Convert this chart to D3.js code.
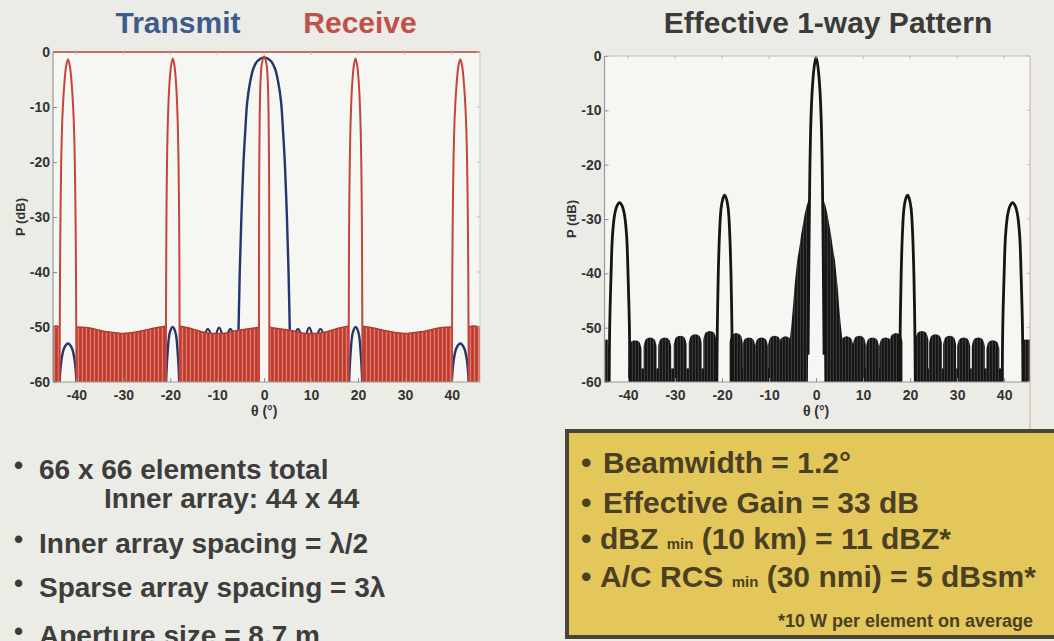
<!DOCTYPE html>
<html><head><meta charset="utf-8">
<script src="https://cdn.jsdelivr.net/npm/d3@7/dist/d3.min.js"></script>
<style>
html,body{margin:0;padding:0;background:#ecece6;}
svg{display:block;font-family:"Liberation Sans",Arial,Helvetica,sans-serif;font-weight:bold;}
</style></head><body>
<svg id="c" width="1054" height="641"></svg>
<script>
// ---------------- DATA ----------------
const angleTicks = [-40,-30,-20,-10,0,10,20,30,40];
const dbTicks = [0,-10,-20,-30,-40,-50,-60];

// Transmit (blue) main lobe: [angle deg, dB]
const txMainLobe = [[-5.6,-60],[-5.45,-50],[-5.2,-40],[-4.85,-30],[-4.4,-20],[-4.0,-14],[-3.6,-9],[-3.0,-5.5],[-2.3,-3],[-1.4,-1.6],[0,-1.0],[1.4,-1.6],[2.3,-3],[3.0,-5.5],[3.6,-9],[4.0,-14],[4.4,-20],[4.85,-30],[5.2,-40],[5.45,-50],[5.6,-60]];
// Transmit sidelobe peaks near -50 dB: [angle, dB]
const txSidePeaks = [[-12.0,-50.4],[-9.6,-50.1],[-7.2,-50.4],[7.2,-50.4],[9.6,-50.1],[12.0,-50.4]];
// Transmit lobes under the receive grating lobes
const txGratingLobes = [
  [[-43.6,-60],[-43.2,-56],[-42.6,-53.8],[-41.8,-53],[-41.0,-53.8],[-40.4,-56],[-40.0,-60]],
  [[-20.9,-60],[-20.6,-55],[-20.1,-51],[-19.5,-50],[-18.9,-51],[-18.4,-55],[-18.1,-60]],
  [[18.1,-60],[18.4,-55],[18.9,-51],[19.5,-50],[20.1,-51],[20.6,-55],[20.9,-60]],
  [[40.0,-60],[40.4,-56],[41.0,-53.8],[41.8,-53],[42.6,-53.8],[43.2,-56],[43.6,-60]]
];
// Receive (red) grating lobes
const rxLobes = [
  [[-43.6,-60],[-43.55,-50],[-43.5,-40],[-43.4,-30],[-43.25,-20],[-43.0,-12],[-42.6,-6],[-42.2,-2.6],[-41.8,-1.3],[-41.4,-2.6],[-41.0,-6],[-40.6,-12],[-40.35,-20],[-40.2,-30],[-40.1,-40],[-40.05,-50],[-40.0,-60]],
  [[-20.95,-60],[-20.92,-50],[-20.88,-40],[-20.82,-30],[-20.7,-20],[-20.5,-12],[-20.2,-6],[-19.85,-2.6],[-19.47,-1.2],[-19.1,-2.6],[-18.75,-6],[-18.45,-12],[-18.25,-20],[-18.12,-30],[-18.06,-40],[-18.03,-50],[-18.0,-60]],
  [[-1.1,-60],[-1.1,-50],[-1.1,-40],[-1.08,-30],[-1.04,-20],[-0.95,-12],[-0.8,-6],[-0.5,-2.2],[0,-0.8],[0.5,-2.2],[0.8,-6],[0.95,-12],[1.04,-20],[1.08,-30],[1.1,-40],[1.1,-50],[1.1,-60]],
  [[18.0,-60],[18.03,-50],[18.06,-40],[18.12,-30],[18.25,-20],[18.45,-12],[18.75,-6],[19.1,-2.6],[19.47,-1.2],[19.85,-2.6],[20.2,-6],[20.5,-12],[20.7,-20],[20.82,-30],[20.88,-40],[20.92,-50],[20.95,-60]],
  [[40.0,-60],[40.05,-50],[40.1,-40],[40.2,-30],[40.35,-20],[40.6,-12],[41.0,-6],[41.4,-2.6],[41.8,-1.3],[42.2,-2.6],[42.6,-6],[43.0,-12],[43.25,-20],[43.4,-30],[43.5,-40],[43.55,-50],[43.6,-60]]
];
// Receive sidelobe floor envelope (top of dense sidelobes) per region
const rxFloor = [
  [[-45,-50],[-44.4,-49.8],[-43.6,-50]],
  [[-40.0,-50],[-38,-50.1],[-36,-50.4],[-34,-50.8],[-32,-51],[-30,-51.2],[-28,-51],[-26,-50.7],[-24,-50.3],[-22,-50],[-20.95,-49.8]],
  [[-18.0,-49.8],[-16,-50.2],[-14,-50.7],[-12,-51.1],[-10,-51.2],[-8,-51.1],[-6,-50.7],[-4,-50.4],[-2,-50.2],[-1.1,-50]],
  [[1.1,-50],[2,-50.2],[4,-50.4],[6,-50.7],[8,-51.1],[10,-51.2],[12,-51.1],[14,-50.7],[16,-50.2],[18.0,-49.8]],
  [[20.95,-49.8],[22,-50],[24,-50.3],[26,-50.7],[28,-51],[30,-51.2],[32,-51],[34,-50.8],[36,-50.4],[38,-50.1],[40.0,-50]],
  [[43.6,-50],[44.6,-49.8],[46,-50]]
];

// Effective 1-way pattern (black)
const effLobes = [
  [[-44.0,-60],[-43.9,-50],[-43.6,-40],[-43.3,-33],[-42.8,-29],[-42.3,-27.5],[-41.8,-27],[-41.3,-27.5],[-40.8,-29],[-40.3,-33],[-40.0,-40],[-39.7,-50],[-39.6,-60]],
  [[-21.1,-60],[-21.0,-50],[-20.8,-40],[-20.5,-32],[-20.2,-28],[-19.8,-26.2],[-19.47,-25.6],[-19.1,-26.2],[-18.7,-28],[-18.4,-32],[-18.1,-40],[-17.9,-50],[-17.8,-60]],
  [[-1.7,-55],[-1.6,-45],[-1.5,-35],[-1.4,-27],[-1.3,-20],[-1.1,-12],[-0.8,-6],[-0.4,-2],[0,-0.2],[0.4,-2],[0.8,-6],[1.1,-12],[1.3,-20],[1.4,-27],[1.5,-35],[1.6,-45],[1.7,-55]],
  [[17.8,-60],[17.9,-50],[18.1,-40],[18.4,-32],[18.7,-28],[19.1,-26.2],[19.47,-25.6],[19.8,-26.2],[20.2,-28],[20.5,-32],[20.8,-40],[21.0,-50],[21.1,-60]],
  [[39.6,-60],[39.7,-50],[40.0,-40],[40.3,-33],[40.8,-29],[41.3,-27.5],[41.8,-27],[42.3,-27.5],[42.8,-29],[43.3,-33],[43.6,-40],[43.9,-50],[44.0,-60]]
];
// dense sidelobe skirt around the main beam (outline of filled region)
const effSkirts = [
  [[-5.8,-60],[-5.8,-54],[-5.5,-51.5],[-5.2,-49],[-4.9,-46],[-4.6,-42.5],[-4.3,-40],[-4.0,-37.5],[-3.6,-35.5],[-3.2,-33],[-2.8,-31],[-2.4,-29],[-2.0,-27.5],[-1.6,-26.5],[-1.4,-27],[-1.5,-35],[-1.6,-45],[-1.75,-60]],
  [[1.75,-60],[1.6,-45],[1.5,-35],[1.4,-27],[1.6,-26.5],[2.0,-27.5],[2.4,-29],[2.8,-31],[3.2,-33],[3.6,-35.5],[4.0,-37.5],[4.3,-40],[4.6,-42.5],[4.9,-46],[5.2,-49],[5.5,-51.5],[5.8,-54],[5.8,-60]]
];
// floor bands: [start angle, end angle, top dB]
const effFloorBands = [[-45,-44.3,-52.2],[-39.9,-21.0,-57.5],[-17.9,-5.6,-57.5],[5.6,17.8,-57.5],[21.0,39.8,-57.5],[44.2,45.5,-52.2]];
// floor sidelobe clusters: [center angle, peak dB]
const effFloorBumps = [
  [-38.5,-52.3],[-35.3,-51.8],[-32.2,-51.8],[-28.9,-51.5],[-25.7,-51.2],[-22.6,-50.6],
  [-17.0,-51.0],[-14.3,-51.8],[-11.6,-51.8],[-8.8,-51.5],[-6.5,-51.6],
  [6.5,-51.6],[9.2,-51.5],[12.0,-51.8],[14.8,-51.8],[17.0,-51.0],
  [22.5,-50.6],[25.4,-51.2],[28.4,-51.5],[31.4,-51.8],[34.5,-51.8],[37.6,-52.3]
];

const leftBullets = ["66 x 66 elements total","Inner array: 44 x 44","Inner array spacing = λ/2","Sparse array spacing = 3λ","Aperture size = 8.7 m"];
const leftBulletHasDot = [true,false,true,true,true];

// ---------------- DRAW ----------------
const svg = d3.select("#c");
const defs = svg.append("defs");
const pr = defs.append("pattern").attr("id","redFloor").attr("patternUnits","userSpaceOnUse").attr("width",4).attr("height",8);
["#b93a2f","#c94b3e","#dd7d6e","#c24236"].forEach((c,i)=>pr.append("rect").attr("x",i).attr("y",0).attr("width",1).attr("height",8).attr("fill",c));
const pb = defs.append("pattern").attr("id","blackFloor").attr("patternUnits","userSpaceOnUse").attr("width",3).attr("height",8);
["#141414","#1a1a1a","#3a3a3a"].forEach((c,i)=>pb.append("rect").attr("x",i).attr("y",0).attr("width",1).attr("height",8).attr("fill",c));

const xL = d3.scaleLinear().domain([-45,46]).range([53,480]);
const yL = d3.scaleLinear().domain([-60,0]).range([382,52]);
const xR = d3.scaleLinear().domain([-45,45.5]).range([604.5,1030]);
const yR = d3.scaleLinear().domain([-60,0]).range([382,56]);

function panelBase(x,y,id){
  const [x0,x1]=x.range(), [yb,yt]=y.range();
  svg.append("rect").attr("x",x0).attr("y",yt).attr("width",x1-x0).attr("height",yb-yt).attr("fill","#f6f6f2");
  defs.append("clipPath").attr("id",id).append("rect").attr("x",x0).attr("y",yt-1).attr("width",x1-x0).attr("height",yb-yt+1);
  return svg.append("g").attr("clip-path",`url(#${id})`);
}
function axes(x,y,cols){
  const [x0,x1]=x.range(), [yb,yt]=y.range();
  const fam = '"Liberation Sans",Arial,sans-serif';
  const gx = svg.append("g").attr("transform",`translate(0,${yb})`)
    .call(d3.axisBottom(x).tickValues(angleTicks).tickSize(-4).tickPadding(8).tickFormat(d=>String(d)));
  gx.attr("font-size",14).attr("font-family",fam).attr("font-weight","bold");
  gx.select(".domain").remove();
  gx.selectAll("line").attr("stroke","#8a8a8a");
  gx.selectAll("text").attr("fill","#333");
  const gy = svg.append("g").attr("transform",`translate(${x0},0)`)
    .call(d3.axisLeft(y).tickValues(dbTicks).tickSize(-4).tickPadding(3).tickFormat(d=>String(d)));
  gy.attr("font-size",14).attr("font-family",fam).attr("font-weight","bold");
  gy.select(".domain").remove();
  gy.selectAll("line").attr("stroke","#8a8a8a");
  gy.selectAll("text").attr("fill","#333");
  svg.append("line").attr("x1",x0).attr("x2",x1).attr("y1",yt).attr("y2",yt).attr("stroke",cols.top).attr("stroke-width",cols.topW);
  svg.append("line").attr("x1",x0).attr("x2",x1).attr("y1",yb).attr("y2",yb).attr("stroke","#999").attr("stroke-width",1);
  svg.append("line").attr("x1",x0).attr("x2",x0).attr("y1",yt).attr("y2",yb).attr("stroke","#999").attr("stroke-width",1.2);
  svg.append("line").attr("x1",x1).attr("x2",x1).attr("y1",yt).attr("y2",cols.rightBottom||yb).attr("stroke",cols.right).attr("stroke-width",1);
  angleTicks.forEach(t=>svg.append("line").attr("x1",x(t)).attr("x2",x(t)).attr("y1",yt).attr("y2",yt+3).attr("stroke","#bbb"));
  dbTicks.forEach(t=>svg.append("line").attr("x1",x1).attr("x2",x1-3).attr("y1",y(t)).attr("y2",y(t)).attr("stroke","#bbb"));
  svg.append("text").attr("transform",`translate(${x0-33},${(yt+yb)/2}) rotate(-90)`).attr("text-anchor","middle").attr("dy","0.35em")
    .attr("font-size",13).attr("fill","#333").text("P (dB)");
  svg.append("text").attr("x",x(0)).attr("y",yb+34).attr("text-anchor","middle")
    .attr("font-size",14).attr("fill","#333").text("θ (°)");
}
const curve = d3.curveCatmullRom.alpha(0.5);

// ---- Left panel ----
const gL = panelBase(xL,yL,"clipL");
const lineL = d3.line().x(d=>xL(d[0])).y(d=>yL(d[1])).curve(curve);
const areaL = d3.area().x(d=>xL(d[0])).y0(yL(-60)).y1(d=>yL(d[1])).curve(d3.curveMonotoneX);
const blue = "#25356d", red = "#c6443a";
gL.append("path").attr("d",lineL(txMainLobe)).attr("fill","none").attr("stroke",blue).attr("stroke-width",2.4);
txGratingLobes.forEach(l=>gL.append("path").attr("d",lineL(l)).attr("fill","none").attr("stroke",blue).attr("stroke-width",2.4));
txSidePeaks.forEach(([c,p])=>{
  const pts=[[c-1.1,-56],[c-0.6,-51.3],[c,p],[c+0.6,-51.3],[c+1.1,-56]];
  gL.append("path").attr("d",lineL(pts)).attr("fill","none").attr("stroke",blue).attr("stroke-width",2.2);
});
rxFloor.forEach(seg=>{
  gL.append("path").attr("d",areaL(seg)).attr("fill","url(#redFloor)");
  gL.append("path").attr("d",d3.line().x(d=>xL(d[0])).y(d=>yL(d[1])).curve(d3.curveMonotoneX)(seg)).attr("fill","none").attr("stroke","#b6372d").attr("stroke-width",1.5);
});
rxLobes.forEach(l=>gL.append("path").attr("d",lineL(l)).attr("fill","none").attr("stroke",red).attr("stroke-width",2));
axes(xL,yL,{top:"#b7746c",topW:2,right:"#c8c8c4"});

// ---- Right panel ----
const gR = panelBase(xR,yR,"clipR");
const lineR = d3.line().x(d=>xR(d[0])).y(d=>yR(d[1])).curve(curve);
const black = "#151515";
effFloorBands.forEach(([a,b,t])=>{
  gR.append("rect").attr("x",xR(a)).attr("y",yR(t)).attr("width",xR(b)-xR(a)).attr("height",yR(-60)-yR(t)).attr("fill","url(#blackFloor)");
});
const bumpHW = 1.38;
const areaR = d3.area().x(d=>xR(d[0])).y0(yR(-60)).y1(d=>yR(d[1])).curve(d3.curveMonotoneX);
effFloorBumps.forEach(([c,p])=>{
  const pts=[[c-bumpHW,p-1.6],[c-bumpHW*0.75,p-0.5],[c-bumpHW*0.35,p-0.1],[c,p],[c+bumpHW*0.35,p-0.1],[c+bumpHW*0.75,p-0.5],[c+bumpHW,p-1.6]];
  gR.append("path").attr("d",areaR(pts)).attr("fill","url(#blackFloor)");
});
effSkirts.forEach(s=>gR.append("path").attr("d",d3.line().x(d=>xR(d[0])).y(d=>yR(d[1])).curve(d3.curveLinearClosed)(s)).attr("fill","url(#blackFloor)"));
effLobes.forEach(l=>gR.append("path").attr("d",lineR(l)).attr("fill","none").attr("stroke",black).attr("stroke-width",2.8));
axes(xR,yR,{top:"#d2b4ae",topW:1.2,right:"#d9a79f",rightBottom:432});

// ---- Titles ----
svg.append("text").attr("x",178).attr("y",33).attr("text-anchor","middle").attr("font-size",30).attr("fill","#3f5b8e").text("Transmit");
svg.append("text").attr("x",360).attr("y",33).attr("text-anchor","middle").attr("font-size",30).attr("fill","#c1504a").text("Receive");
svg.append("text").attr("x",828).attr("y",33).attr("text-anchor","middle").attr("font-size",30).attr("fill","#3b3b3b").text("Effective 1-way Pattern");

// ---- Left bullets ----
const bY = [479,508,553,597,645];
const bX = [39,104,39,39,39];
leftBullets.forEach((t,i)=>{
  if(leftBulletHasDot[i]) svg.append("text").attr("x",14).attr("y",bY[i]-5).attr("font-size",26).attr("fill","#3a3a3a").text("•");
  svg.append("text").attr("x",bX[i]).attr("y",bY[i]).attr("font-size",28).attr("fill","#3d3d3d").text(t);
});

// ---- Yellow box ----
svg.append("rect").attr("x",567).attr("y",431).attr("width",500).attr("height",206).attr("fill","#e3c75a").attr("stroke","#4a4535").attr("stroke-width",4);
const boxC = "#4b4024";
const boxLines = [
  {y:473, parts:[["Beamwidth = 1.2°",30]]},
  {y:513, parts:[["Effective Gain = 33 dB",30]]},
  {y:549, parts:[["dBZ ",30],["min",15],[" (10 km) = 11 dBZ*",30]]},
  {y:587, parts:[["A/C RCS ",30],["min",15],[" (30 nmi) = 5 dBsm*",30]]}
];
boxLines.forEach(l=>{
  svg.append("text").attr("x",581).attr("y",l.y).attr("font-size",30).attr("fill",boxC).text("•");
  const t = svg.append("text").attr("x",l.parts.length>1?600:603).attr("y",l.y).attr("fill",boxC);
  l.parts.forEach(([s,fs])=>t.append("tspan").attr("font-size",fs).text(s));
});
svg.append("text").attr("x",1033).attr("y",627).attr("text-anchor","end").attr("font-size",18).attr("fill",boxC).text("*10 W per element on average");
</script></body></html>
